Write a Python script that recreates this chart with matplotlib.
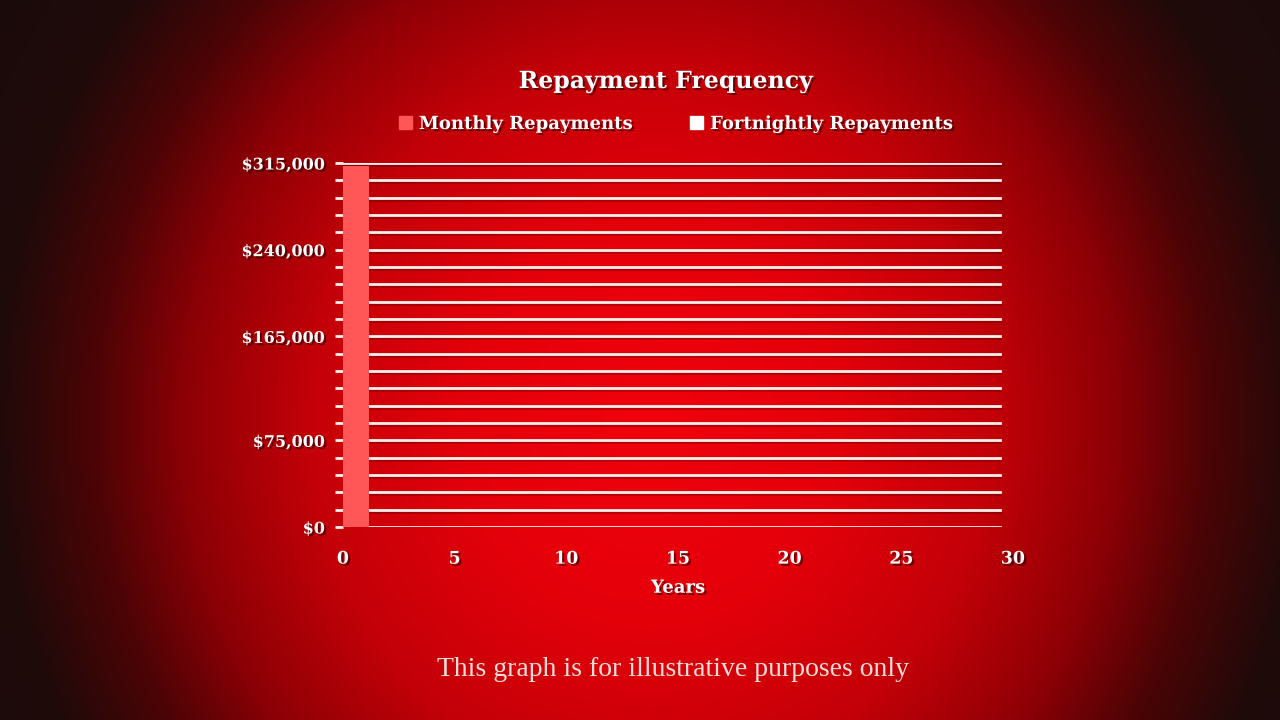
import numpy as np
import matplotlib.pyplot as plt
import matplotlib.patheffects as pe
from matplotlib.patches import Patch

# data
years = [0]
monthly = [312000]
fortnightly = []
x_ticks = [0, 5, 10, 15, 20, 25, 30]
y_grid = list(range(0, 315001, 15000))
y_labelled = [0, 75000, 165000, 240000, 315000]

plt.rcParams['font.family'] = ['DejaVu Serif', 'DejaVu Sans']

fig = plt.figure(figsize=(12.8, 7.2), dpi=100)

# radial red background
bg = fig.add_axes([0, 0, 1, 1])
yy, xx = np.mgrid[0:720, 0:1280]
r = np.sqrt(((xx - 650) / 620.0) ** 2 + ((yy - 420) / 660.0) ** 2)
stops = [0.0, 0.3, 0.55, 0.75, 0.9, 1.05, 1.4]
reds = [240, 228, 195, 140, 75, 32, 22]
greens = [2, 0, 0, 0, 4, 10, 10]
blues = [12, 10, 8, 5, 5, 10, 10]
img = np.dstack([np.interp(r, stops, reds), np.interp(r, stops, greens),
                 np.interp(r, stops, blues)]) / 255.0
bg.imshow(img, aspect='auto', extent=[0, 1, 0, 1])
bg.axis('off')

ax = fig.add_axes([343 / 1280, 1 - 527 / 720, (1013 - 343) / 1280, 364 / 720])
ax.patch.set_alpha(0)
for s in ax.spines.values():
    s.set_visible(False)
ax.set_xlim(0, 30)
ax.set_ylim(0, 315000)

shadow = pe.withSimplePatchShadow(offset=(1.5, -1.5), shadow_rgbFace='black', alpha=0.5)
line_fx = [pe.SimpleLineShadow(offset=(0, -1.5), shadow_color='black', alpha=0.22), pe.Normal()]

for v in y_grid:
    ax.axhline(v, xmin=0, xmax=(1000 - 343) / (1013 - 343), color='#fff0ec', lw=2,
               zorder=1, path_effects=line_fx)

ax.bar(years, monthly, width=1.16, align='edge', color='#ff5757', zorder=3)

ax.set_yticks(y_grid)
ax.set_yticklabels(['${:,}'.format(v) if v in y_labelled else '' for v in y_grid])
ax.tick_params(axis='y', length=6, width=2, color='#fff0ec', pad=7,
               labelsize=11.5, labelcolor='white')
ax.set_xticks(x_ticks)
ax.tick_params(axis='x', length=0, pad=17, labelsize=12.5, labelcolor='white')
for lab in ax.get_yticklabels() + ax.get_xticklabels():
    lab.set_fontweight('bold')
    lab.set_path_effects([shadow])

ax.set_xlabel('Years', color='white', fontsize=13, fontweight='bold', labelpad=8,
              path_effects=[shadow])

fig.text(0.52, 1 - 81 / 720, 'Repayment Frequency', ha='center', va='center',
         color='white', fontsize=17, fontweight='bold', path_effects=[shadow])

handles = [Patch(color='#ff5757', label='Monthly Repayments'),
           Patch(color='white', label='Fortnightly Repayments')]
leg = fig.legend(handles=handles, loc='center', bbox_to_anchor=(0.528, 1 - 124 / 720),
                 ncol=2, frameon=False, fontsize=13, handlelength=0.7, handleheight=0.7,
                 handletextpad=0.4, columnspacing=3.2)
for t in leg.get_texts():
    t.set_color('white')
    t.set_fontweight('bold')
    t.set_path_effects([shadow])

fig.text(0.526, 1 - 670 / 720, 'This graph is for illustrative purposes only',
         ha='center', va='center', color='#f8ddd8', fontsize=20,
         family=['Liberation Serif', 'DejaVu Serif'])

fig.savefig('out.png', dpi=100)
